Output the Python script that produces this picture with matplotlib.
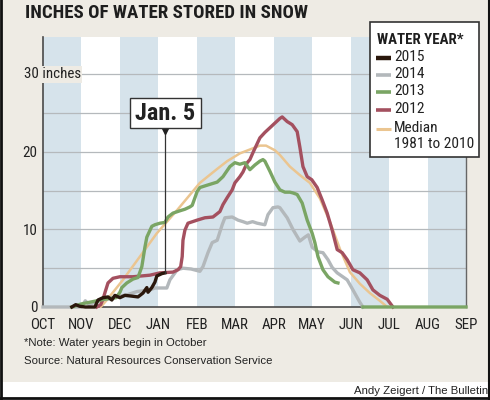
import numpy as np
import matplotlib
matplotlib.use("Agg")
import matplotlib.pyplot as plt
from matplotlib import font_manager
from matplotlib.patches import Rectangle
from matplotlib.lines import Line2D

# months on the x axis, water year starts in October (x = months since Oct 1)
months = ["OCT", "NOV", "DEC", "JAN", "FEB", "MAR", "APR", "MAY", "JUN", "JUL", "AUG", "SEP"]

# 2015 (up to Jan. 5)
m_2015 = [0.75, 0.85, 0.95, 1.1, 1.35, 1.43, 1.56, 1.69, 1.79, 1.87, 2.0, 2.13, 2.31, 2.47,
          2.6, 2.7, 2.73, 2.83, 2.91, 2.96, 3.09, 3.17]
v_2015 = [0, 0.3, 0.1, 0, 0, 0.9, 1.2, 1.3, 0.9, 1.5, 1.2, 1.5, 1.4, 1.3,
          1.8, 2.5, 1.9, 2.5, 3.2, 4.0, 4.3, 4.4]

# 2014
m_2014 = [0, 1.0, 1.1, 1.2, 1.35, 1.55, 1.8, 2.0, 2.2, 2.45, 2.78, 2.91, 3.22, 3.30, 3.49,
          3.64, 3.85, 4.08, 4.16, 4.29, 4.40, 4.53, 4.66, 4.73, 4.92, 5.07, 5.2, 5.31, 5.45,
          5.57, 5.77, 5.85, 5.98, 6.11, 6.16, 6.35, 6.5, 6.68, 6.81, 6.9, 7.0, 7.15, 7.28,
          7.41, 7.52, 7.65, 7.91, 8.06, 8.24, 8.32]
v_2014 = [0, 0, 0.8, 0.3, 0.6, 0.9, 1.2, 1.4, 1.6, 2.0, 2.2, 2.45, 2.45, 3.5, 4.8,
          5.0, 4.9, 4.6, 5.2, 7.0, 8.3, 8.6, 10.6, 11.5, 11.6, 11.2, 11.0, 10.8, 11.0,
          10.8, 10.6, 11.9, 12.8, 12.9, 12.8, 11.5, 10.0, 8.5, 9.0, 9.3, 7.7, 7.1, 7.0,
          6.1, 5.1, 4.4, 3.5, 2.2, 0.6, 0]

# 2013 (gap in record in June)
m_2013 = [0.75, 1.0, 1.3, 1.6, 1.9, 2.0, 2.05, 2.18, 2.34, 2.47, 2.52, 2.57, 2.65, 2.70,
          2.83, 2.91, 3.04, 3.17, 3.25, 3.38, 3.56, 3.69, 3.82, 3.88, 4.01, 4.08, 4.27,
          4.53, 4.68, 4.86, 4.99, 5.12, 5.25, 5.38, 5.51, 5.64, 5.72, 5.77, 5.90, 6.03,
          6.16, 6.29, 6.42, 6.5, 6.61, 6.74, 6.87, 7.0, 7.07, 7.15, 7.28, 7.41, 7.59,
          7.67, 7.7, 8.32, 11.0]
v_2013 = [0, 0.4, 0.7, 1.0, 1.2, 1.9, 2.5, 3.1, 3.6, 3.8, 4.5, 5.2, 7.7, 9.0,
          10.4, 10.6, 10.8, 10.9, 11.6, 12.1, 12.4, 12.6, 12.9, 13.1, 14.9, 15.4, 15.7,
          16.1, 16.8, 18.1, 18.6, 18.4, 18.6, 17.7, 18.3, 18.8, 19.0, 18.8, 17.5, 16.1,
          15.1, 14.8, 14.8, 14.7, 14.5, 13.4, 11.2, 9.5, 8.3, 6.5, 4.8, 3.9, 3.2,
          3.1, np.nan, 0, 0]

# 2012
m_2012 = [1.40, 1.50, 1.56, 1.62, 1.69, 1.82, 2.0, 2.34, 2.78, 3.04, 3.38, 3.51, 3.58,
          3.62, 3.64, 3.69, 3.77, 4.01, 4.21, 4.42, 4.60, 4.68, 4.79, 4.92, 4.99, 5.12,
          5.20, 5.31, 5.38, 5.46, 5.64, 5.77, 5.90, 6.03, 6.16, 6.22, 6.35, 6.48, 6.61,
          6.68, 6.76, 6.87, 6.99, 7.13, 7.26, 7.39, 7.52, 7.65, 7.78, 7.91, 8.06, 8.24,
          8.43, 8.58, 8.76, 8.95, 9.10]
v_2012 = [0, 0.3, 1.0, 2.0, 3.1, 3.7, 3.9, 3.9, 4.1, 4.4, 4.5, 4.8, 5.2,
          6.5, 8.6, 9.9, 10.8, 11.2, 11.5, 11.6, 12.3, 13.2, 14.1, 15.1, 16.0, 16.8,
          17.4, 18.6, 19.0, 19.9, 21.8, 22.5, 23.1, 23.7, 24.3, 24.5, 23.9, 23.5, 22.6,
          20.6, 18.1, 16.8, 16.4, 15.4, 13.8, 12.1, 9.9, 7.4, 7.0, 6.1, 4.8, 4.4,
          3.5, 2.2, 1.5, 1.0, 0]

# median 1981 to 2010
m_med = [1.50, 1.66, 2.08, 2.52, 2.96, 3.49, 4.08, 4.53, 4.79, 5.12, 5.38, 5.64, 5.80,
         6.03, 6.16, 6.42, 6.68, 6.94, 7.20, 7.46, 7.72, 7.98, 8.24, 8.50, 8.76, 8.95]
v_med = [0, 0.9, 3.5, 6.5, 9.5, 12.5, 16.0, 17.8, 18.8, 19.8, 20.3, 20.8, 20.8,
         20.2, 19.6, 18.1, 17.0, 16.0, 14.0, 11.0, 7.5, 4.5, 3.0, 1.8, 0.8, 0]

jan5 = 3.17
grid_levels = [5, 10, 15, 20, 25, 30]

BG = "#eeebe4"
STRIPE = "#d6e3eb"
C_2015 = "#2a170c"
C_2014 = "#b3b8bb"
C_2013 = "#7aa564"
C_2012 = "#a4505f"
C_MED = "#ebc590"

# prefer a narrow face if one is installed
names = {f.name for f in font_manager.fontManager.ttflist}
COND = dict(family=["Roboto", "DejaVu Sans"])
for nm in ["Liberation Sans Narrow", "Roboto Condensed", "Open Sans Condensed"]:
    if nm in names:
        COND = dict(family=[nm, "DejaVu Sans"])
        break
REG = dict(family=["Liberation Sans", "DejaVu Sans"])

W, H = 490, 400
fig = plt.figure(figsize=(W / 100, H / 100), dpi=100, facecolor=BG)
renderer = fig.canvas.get_renderer()


def size_for(s, target_px, **kw):
    # font size that gives the text the width it has in the reference
    t = fig.text(0, 0, s, fontsize=10, **kw)
    w = t.get_window_extent(renderer).width
    t.remove()
    return 10 * target_px / w


sz_title = size_for("INCHES OF WATER STORED IN SNOW", 282, weight="bold", **COND)
sz_tick = size_for("MAR", 28, **COND)
sz_leg = size_for("1981 to 2010", 79, **COND)
sz_legtitle = size_for("WATER YEAR*", 86, weight="bold", **COND)
sz_jan = size_for("Jan. 5", 60, weight="bold", **COND)
sz_note = size_for("Source: Natural Resources Conservation Service", 248, **REG)

# white strip at the bottom and frame
fig.add_artist(Rectangle((0, 0), 1, 18 / H, transform=fig.transFigure, fc="white", ec="none"))
fig.add_artist(Line2D([0.002, 0.002], [0, 1], transform=fig.transFigure, color="#111", lw=2))
fig.add_artist(Line2D([0.998, 0.998], [0, 1], transform=fig.transFigure, color="#111", lw=1.5))
fig.add_artist(Line2D([0, 1], [0.004, 0.004], transform=fig.transFigure, color="#111", lw=2))

ax = fig.add_axes([43 / W, 1 - 307 / H, 423 / W, 270 / H])
ax.set_facecolor("white")
ax.set_xlim(0, 11)
ax.set_ylim(0, 34.8)

for i in range(0, 11, 2):
    ax.axvspan(i, i + 1, color=STRIPE, lw=0, zorder=0)
for g in grid_levels:
    ax.axhline(g, color="#b5b9bc", lw=0.9, zorder=1)

ax.plot(m_med, v_med, color=C_MED, lw=1.8, zorder=3, clip_on=False, solid_capstyle="round")
ax.plot(m_2014, v_2014, color=C_2014, lw=2.4, zorder=4, clip_on=False, solid_joinstyle="round")
ax.plot(m_2013, v_2013, color=C_2013, lw=2.4, zorder=5, clip_on=False, solid_joinstyle="round")
ax.plot(m_2012, v_2012, color=C_2012, lw=2.4, zorder=4.5, clip_on=False, solid_joinstyle="round")
ax.plot(m_2015, v_2015, color=C_2015, lw=2.4, zorder=6, clip_on=False, solid_joinstyle="round")

# Jan. 5 marker
ax.plot([jan5, jan5], [v_2015[-1], 23.0], color="#333", lw=0.9, zorder=7)
ax.plot(jan5, 22.7, marker="v", ms=5, color="#222", zorder=8)
ax.add_patch(Rectangle((2.26, 23.1), 1.85, 3.9, fc="white", ec="#333", lw=1, zorder=8))
ax.text(3.185, 25.0, "Jan. 5", ha="center", va="center", fontsize=sz_jan, weight="bold",
        color="#222", zorder=9, **COND)

ax.spines["top"].set_visible(False)
ax.spines["left"].set_color("#4a4a4a")
ax.spines["left"].set_linewidth(1.2)
ax.spines["bottom"].set_color("#4a4a4a")
ax.spines["bottom"].set_linewidth(1.2)
ax.spines["right"].set_color("#666")
ax.spines["right"].set_linewidth(1.0)

ax.set_yticks([0, 10, 20])
ax.set_yticklabels(["0", "10", "20"], color="#222", fontsize=sz_tick, **COND)
ax.set_xticks(range(len(months)))
ax.set_xticklabels(months, color="#222", fontsize=sz_tick, **COND)
ax.tick_params(axis="both", length=0)
ax.tick_params(axis="y", pad=4)
ax.tick_params(axis="x", pad=8)
ax.text(0.98, 30, "30 inches", ha="right", va="center", fontsize=sz_tick, color="#222",
        zorder=9, clip_on=False, bbox=dict(fc=BG, ec="none", pad=1.0), **COND)

# title
fig.text(25 / W, 1 - 13 / H, "INCHES OF WATER STORED IN SNOW", ha="left", va="center",
         fontsize=sz_title, weight="bold", color="#1e1e1e", **COND)

# legend box
lax = fig.add_axes([370 / W, 1 - 157 / H, 109 / W, 135 / H])
lax.set_xlim(0, 109)
lax.set_ylim(135, 0)
lax.axis("off")
lax.add_patch(Rectangle((0, 0), 109, 135, fc="white", ec="#333", lw=1.2, clip_on=False))
lax.text(7, 18, "WATER YEAR*", ha="left", va="center", fontsize=sz_legtitle, weight="bold",
         color="#1e1e1e", **COND)
entries = [("2015", C_2015, 3.2, 35), ("2014", C_2014, 2.6, 52), ("2013", C_2013, 2.6, 69),
           ("2012", C_2012, 2.6, 87), ("Median", C_MED, 2.2, 106)]
for lab, col, lw, yy in entries:
    lax.plot([6, 21], [yy + 1, yy + 1], color=col, lw=lw, solid_capstyle="butt")
    lax.text(24, yy, lab, ha="left", va="center", fontsize=sz_leg, color="#222", **COND)
lax.text(24, 122, "1981 to 2010", ha="left", va="center", fontsize=sz_leg, color="#222", **COND)

# notes
fig.text(24 / W, 1 - 343 / H, "*Note: Water years begin in October", ha="left", va="center",
         fontsize=sz_note, color="#222", **REG)
fig.text(24 / W, 1 - 361 / H, "Source: Natural Resources Conservation Service", ha="left",
         va="center", fontsize=sz_note, color="#222", **REG)
fig.text(488 / W, 1 - 391 / H, "Andy Zeigert / The Bulletin", ha="right", va="center",
         fontsize=sz_note, color="#222", **REG)

fig.savefig("out.png", dpi=100, facecolor=BG)
